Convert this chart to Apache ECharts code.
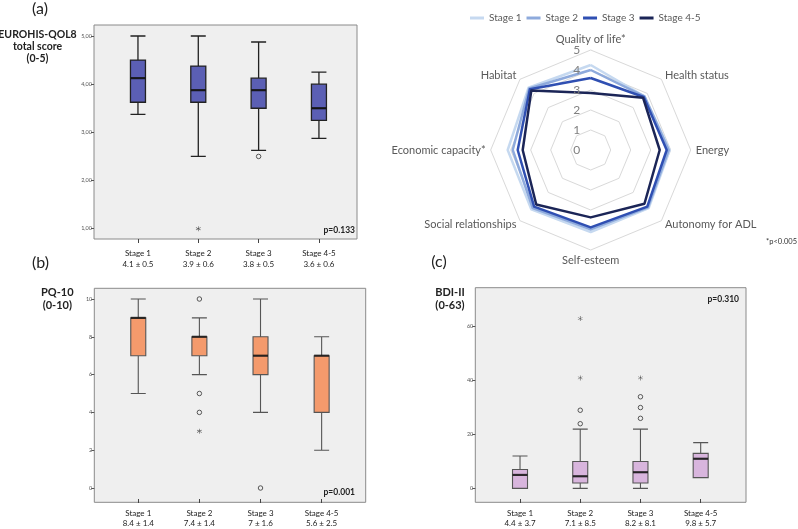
<!DOCTYPE html>
<html><head><meta charset="utf-8">
<script src="https://cdn.jsdelivr.net/npm/echarts@6/dist/echarts.min.js"></script>
<style>html,body{margin:0;padding:0;background:#fff}#c{width:798px;height:529px}</style>
</head><body><div id="c"></div>
<script>
// ---------- DATA ----------
const stages = ['Stage 1', 'Stage 2', 'Stage 3', 'Stage 4-5'];

// (a) EUROHIS-QOL8 : [min, Q1, median, Q3, max]
const qolMeanSd = ['4.1 ± 0.5', '3.9 ± 0.6', '3.8 ± 0.5', '3.6 ± 0.6'];
const qolBoxes = [
  [3.375, 3.625, 4.125, 4.5, 5.0],
  [2.5, 3.625, 3.875, 4.375, 5.0],
  [2.625, 3.5, 3.875, 4.125, 4.875],
  [2.875, 3.25, 3.5, 4.0, 4.25]
];
const qolCircles = [[2, 2.5]];
const qolStars = [[1, 1.0]];

// (b) PQ-10
const pqMeanSd = ['8.4 ± 1.4', '7.4 ± 1.4', '7 ± 1.6', '5.6 ± 2.5'];
const pqBoxes = [
  [5, 7, 9, 9, 10],
  [6, 7, 8, 8, 9],
  [4, 6, 7, 8, 10],
  [2, 4, 7, 7, 8]
];
const pqCircles = [[1, 10], [1, 5], [1, 4], [2, 0]];
const pqStars = [[1, 3]];

// (c) BDI-II
const bdiMeanSd = ['4.4 ± 3.7', '7.1 ± 8.5', '8.2 ± 8.1', '9.8 ± 5.7'];
const bdiBoxes = [
  [0, 0, 5, 7, 12],
  [0, 2, 4.5, 10, 22],
  [0, 2, 6, 10, 22],
  [4, 4, 11, 13, 17]
];
const bdiCircles = [[1, 24], [1, 29], [2, 26], [2, 30], [2, 34]];
const bdiStars = [[1, 41], [1, 63], [2, 41]];

// Radar (counter-clockwise from top)
const radarIndicators = ['Quality of life*', 'Habitat', 'Economic capacity*', 'Social relationships',
  'Self-esteem', 'Autonomy for ADL', 'Energy', 'Health status'];
const radarStage1 = [4.25, 4.4, 4.15, 4.2, 4.1, 4.1, 3.95, 3.8];
const radarStage2 = [4.0, 4.35, 3.9, 4.1, 3.97, 4.05, 3.9, 3.8];
const radarStage3 = [3.6, 4.3, 3.65, 4.0, 3.87, 4.0, 3.8, 3.75];
const radarStage45 = [2.85, 4.2, 3.4, 3.85, 3.37, 3.8, 3.45, 3.7];
const radarTicks = [0, 1, 2, 3, 4, 5];

// ---------- STYLE ----------
const FF = 'Lato, "Liberation Sans", sans-serif';
const radarColors = ['#c6d9f0', '#8eaadc', '#2f4fb2', '#1b2557'];
const starPath = 'path://M-0.5,-5 L0.5,-5 L0.5,5 L-0.5,5 Z M4.08,2.93 L4.58,2.07 L-4.08,-2.93 L-4.58,-2.07 Z M-4.58,2.07 L-4.08,2.93 L4.58,-2.07 L4.08,-2.93 Z';

const chart = echarts.init(document.getElementById('c'), null, {renderer: 'canvas'});

const frame = (l, t, w, h) => ({left: l, top: t, width: w, height: h, show: true,
  backgroundColor: '#efefef', borderColor: '#8a8a8a', borderWidth: 1});

const grids = [
  frame(94, 25, 263, 214),
  {left: 107.8, top: 36, width: 241.3, height: 192.7},
  frame(94.3, 288.3, 271.4, 214),
  {left: 107.7, top: 299, width: 244.5, height: 192.3},
  frame(475.3, 287.7, 270.7, 214.6),
  {left: 489.9, top: 326.7, width: 240.9, height: 165}
];

const xAxes = [], yAxes = [];
function hiddenAxes(gi) {
  xAxes.push({gridIndex: gi, type: 'value', show: false});
  yAxes.push({gridIndex: gi, type: 'value', show: false});
}
function dataAxes(gi, meanSd, xOff, yOff, ymin, ymax, yint, fmt, margin) {
  xAxes.push({
    gridIndex: gi, type: 'category', data: stages, offset: xOff, position: 'bottom',
    axisLine: {show: false, onZero: false},
    axisTick: {show: true, alignWithLabel: true, length: 4, lineStyle: {color: '#444'}},
    axisLabel: {formatter: (v, i) => v + '\n' + meanSd[i], fontSize: 8, lineHeight: 10.5,
      color: '#222', margin: margin, fontFamily: FF},
    splitLine: {show: false}
  });
  yAxes.push({
    gridIndex: gi, type: 'value', min: ymin, max: ymax, interval: yint, offset: yOff,
    axisLine: {show: false, onZero: false},
    axisTick: {show: true, length: 3, lineStyle: {color: '#555'}},
    axisLabel: {formatter: fmt, fontSize: 5.5, color: '#555', margin: 2, fontFamily: FF},
    splitLine: {show: false}
  });
}
hiddenAxes(0);
dataAxes(1, qolMeanSd, 10.3, 13.8, 1, 5, 1, v => v.toFixed(2).replace('.', ','), 9.5);
hiddenAxes(2);
dataAxes(3, pqMeanSd, 11, 13.4, 0, 10, 2, v => String(v), 9);
hiddenAxes(4);
dataAxes(5, bdiMeanSd, 10.6, 14.6, 0, 60, 20, v => String(v), 9);

const series = [];
function boxPanel(axisIdx, boxes, circles, stars, color, borderColor, bw) {
  series.push({
    type: 'boxplot', xAxisIndex: axisIdx, yAxisIndex: axisIdx, data: boxes,
    boxWidth: [15, 15], itemStyle: {color: color, borderColor: borderColor, borderWidth: bw},
    emphasis: {disabled: true}, z: 3
  });
  series.push({
    type: 'scatter', xAxisIndex: axisIdx, yAxisIndex: axisIdx,
    data: boxes.map((b, i) => [i, b[2]]), symbol: 'rect', symbolSize: [15, 2.2],
    itemStyle: {color: '#111'}, clip: false, z: 4, emphasis: {disabled: true}
  });
  series.push({
    type: 'scatter', xAxisIndex: axisIdx, yAxisIndex: axisIdx, data: circles,
    symbol: 'circle', symbolSize: 4.5,
    itemStyle: {color: 'rgba(0,0,0,0)', borderColor: '#333', borderWidth: 1},
    clip: false, z: 4, emphasis: {disabled: true}
  });
  series.push({
    type: 'scatter', xAxisIndex: axisIdx, yAxisIndex: axisIdx, data: stars,
    symbol: starPath, symbolSize: 5, itemStyle: {color: '#222'},
    clip: false, z: 4, emphasis: {disabled: true}
  });
}
boxPanel(1, qolBoxes, qolCircles, qolStars, '#5b5fb4', '#222', 1.3);
boxPanel(3, pqBoxes, pqCircles, pqStars, '#f49a6c', '#555', 1.1);
boxPanel(5, bdiBoxes, bdiCircles, bdiStars, '#d8b5dd', '#555', 1.1);

const radarSeriesData = [radarStage1, radarStage2, radarStage3, radarStage45].map((vals, i) => ({
  name: stages[i], value: vals,
  lineStyle: {color: radarColors[i], width: 2.5},
  itemStyle: {color: radarColors[i]}
}));
series.push({
  type: 'radar', radarIndex: 0, symbol: 'none', data: radarSeriesData,
  emphasis: {disabled: true}, z: 3
});

const RC = [590.7, 150], RR = 100, RMAX = 5;

const texts = [];
function txt(x, y, text, font, align, fill, lineHeight) {
  texts.push({
    type: 'text', x: x, y: y, z: 10,
    style: {text: text, font: font, fill: fill || '#222', align: align || 'center',
      textAlign: align || 'center', verticalAlign: 'middle', textVerticalAlign: 'middle',
      lineHeight: lineHeight || undefined}
  });
}
txt(40, 9, '(a)', '16px ' + FF);
txt(40.5, 263, '(b)', '16px ' + FF);
txt(439, 262, '(c)', '16px ' + FF);
txt(37.5, 47, 'EUROHIS-QOL8\ntotal score\n(0-5)', 'bold 10.5px ' + FF, 'center', '#222', 12);
txt(57.3, 299, 'PQ-10\n(0-10)', 'bold 11px ' + FF, 'center', '#222', 12.5);
txt(450, 299, 'BDI-II\n(0-63)', 'bold 11px ' + FF, 'center', '#222', 12.5);
txt(355, 230, 'p=0.133', 'bold 8.5px ' + FF, 'right');
txt(355, 492.7, 'p=0.001', 'bold 8.5px ' + FF, 'right');
txt(739, 299, 'p=0.310', 'bold 8.5px ' + FF, 'right');
txt(797, 242, '*p<0.005', '7.5px ' + FF, 'right', '#333');
radarTicks.forEach(v => {
  txt(RC[0] - 14, RC[1] - RR * v / RMAX, String(v), '12px ' + FF, 'center', '#7f7f7f');
});

const option = {
  animation: false,
  backgroundColor: '#fff',
  grid: grids,
  xAxis: xAxes,
  yAxis: yAxes,
  legend: {
    data: stages, left: 470, top: 13, padding: 0, itemWidth: 14, itemHeight: 3, itemGap: 5,
    icon: 'rect', textStyle: {color: '#595959', fontSize: 10, fontFamily: FF},
    selectedMode: false
  },
  radar: {
    center: RC, radius: RR, startAngle: 90, shape: 'polygon', splitNumber: 5,
    indicator: radarIndicators.map(n => ({name: n, min: 0, max: RMAX})),
    axisName: {color: '#595959', fontSize: 11, fontFamily: FF},
    nameGap: 5,
    splitLine: {lineStyle: {color: '#d9d9d9', width: 1}},
    splitArea: {show: false},
    axisLine: {show: false},
    axisTick: {show: false},
    axisLabel: {show: false}
  },
  graphic: {elements: texts},
  series: series
};
chart.setOption(option);
</script>
</body></html>
